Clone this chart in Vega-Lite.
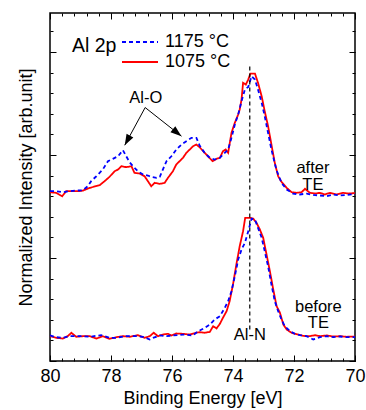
{
  "$schema": "https://vega.github.io/schema/vega-lite/v6.json",
  "width": 305,
  "height": 348,
  "autosize": {"type": "none"},
  "padding": {"left": 50, "top": 13, "right": 11, "bottom": 49},
  "datasets": {
    "spectra": [
      {"E":80.00,"I":1.639,"T":"1075 °C","S":"after"},{"E":79.80,"I":1.633,"T":"1075 °C","S":"after"},{"E":79.60,"I":1.600,"T":"1075 °C","S":"after"},{"E":79.47,"I":1.649,"T":"1075 °C","S":"after"},{"E":79.25,"I":1.649,"T":"1075 °C","S":"after"},{"E":79.03,"I":1.649,"T":"1075 °C","S":"after"},{"E":78.92,"I":1.655,"T":"1075 °C","S":"after"},{"E":78.70,"I":1.681,"T":"1075 °C","S":"after"},{"E":78.37,"I":1.707,"T":"1075 °C","S":"after"},{"E":78.21,"I":1.746,"T":"1075 °C","S":"after"},{"E":78.05,"I":1.788,"T":"1075 °C","S":"after"},{"E":77.88,"I":1.843,"T":"1075 °C","S":"after"},{"E":77.77,"I":1.859,"T":"1075 °C","S":"after"},{"E":77.66,"I":1.891,"T":"1075 °C","S":"after"},{"E":77.50,"I":1.882,"T":"1075 °C","S":"after"},{"E":77.33,"I":1.891,"T":"1075 °C","S":"after"},{"E":77.23,"I":1.827,"T":"1075 °C","S":"after"},{"E":77.06,"I":1.820,"T":"1075 °C","S":"after"},{"E":76.90,"I":1.794,"T":"1075 °C","S":"after"},{"E":76.79,"I":1.746,"T":"1075 °C","S":"after"},{"E":76.68,"I":1.697,"T":"1075 °C","S":"after"},{"E":76.57,"I":1.730,"T":"1075 °C","S":"after"},{"E":76.40,"I":1.720,"T":"1075 °C","S":"after"},{"E":76.24,"I":1.730,"T":"1075 °C","S":"after"},{"E":76.13,"I":1.779,"T":"1075 °C","S":"after"},{"E":75.97,"I":1.843,"T":"1075 °C","S":"after"},{"E":75.86,"I":1.908,"T":"1075 °C","S":"after"},{"E":75.75,"I":1.940,"T":"1075 °C","S":"after"},{"E":75.64,"I":1.973,"T":"1075 °C","S":"after"},{"E":75.53,"I":2.021,"T":"1075 °C","S":"after"},{"E":75.42,"I":2.053,"T":"1075 °C","S":"after"},{"E":75.31,"I":2.085,"T":"1075 °C","S":"after"},{"E":75.20,"I":2.102,"T":"1075 °C","S":"after"},{"E":75.09,"I":2.075,"T":"1075 °C","S":"after"},{"E":74.98,"I":2.037,"T":"1075 °C","S":"after"},{"E":74.82,"I":1.988,"T":"1075 °C","S":"after"},{"E":74.67,"I":1.940,"T":"1075 °C","S":"after"},{"E":74.54,"I":1.963,"T":"1075 °C","S":"after"},{"E":74.43,"I":1.973,"T":"1075 °C","S":"after"},{"E":74.33,"I":2.037,"T":"1075 °C","S":"after"},{"E":74.24,"I":2.053,"T":"1075 °C","S":"after"},{"E":74.16,"I":2.021,"T":"1075 °C","S":"after"},{"E":74.05,"I":2.215,"T":"1075 °C","S":"after"},{"E":73.94,"I":2.313,"T":"1075 °C","S":"after"},{"E":73.83,"I":2.393,"T":"1075 °C","S":"after"},{"E":73.78,"I":2.442,"T":"1075 °C","S":"after"},{"E":73.72,"I":2.539,"T":"1075 °C","S":"after"},{"E":73.67,"I":2.701,"T":"1075 °C","S":"after"},{"E":73.58,"I":2.684,"T":"1075 °C","S":"after"},{"E":73.50,"I":2.733,"T":"1075 °C","S":"after"},{"E":73.43,"I":2.791,"T":"1075 °C","S":"after"},{"E":73.28,"I":2.791,"T":"1075 °C","S":"after"},{"E":73.18,"I":2.701,"T":"1075 °C","S":"after"},{"E":73.06,"I":2.571,"T":"1075 °C","S":"after"},{"E":72.96,"I":2.425,"T":"1075 °C","S":"after"},{"E":72.85,"I":2.280,"T":"1075 °C","S":"after"},{"E":72.74,"I":2.102,"T":"1075 °C","S":"after"},{"E":72.63,"I":1.924,"T":"1075 °C","S":"after"},{"E":72.52,"I":1.794,"T":"1075 °C","S":"after"},{"E":72.41,"I":1.740,"T":"1075 °C","S":"after"},{"E":72.24,"I":1.681,"T":"1075 °C","S":"after"},{"E":72.08,"I":1.639,"T":"1075 °C","S":"after"},{"E":71.91,"I":1.633,"T":"1075 °C","S":"after"},{"E":71.75,"I":1.639,"T":"1075 °C","S":"after"},{"E":71.64,"I":1.672,"T":"1075 °C","S":"after"},{"E":71.48,"I":1.633,"T":"1075 °C","S":"after"},{"E":71.31,"I":1.626,"T":"1075 °C","S":"after"},{"E":71.15,"I":1.633,"T":"1075 °C","S":"after"},{"E":70.99,"I":1.617,"T":"1075 °C","S":"after"},{"E":70.82,"I":1.633,"T":"1075 °C","S":"after"},{"E":70.60,"I":1.617,"T":"1075 °C","S":"after"},{"E":70.38,"I":1.633,"T":"1075 °C","S":"after"},{"E":70.22,"I":1.626,"T":"1075 °C","S":"after"},{"E":70.00,"I":1.630,"T":"1075 °C","S":"after"},

      {"E":80.00,"I":0.241,"T":"1075 °C","S":"before"},{"E":79.80,"I":0.225,"T":"1075 °C","S":"before"},{"E":79.58,"I":0.218,"T":"1075 °C","S":"before"},{"E":79.42,"I":0.241,"T":"1075 °C","S":"before"},{"E":79.30,"I":0.274,"T":"1075 °C","S":"before"},{"E":79.14,"I":0.235,"T":"1075 °C","S":"before"},{"E":78.92,"I":0.241,"T":"1075 °C","S":"before"},{"E":78.70,"I":0.241,"T":"1075 °C","S":"before"},{"E":78.48,"I":0.218,"T":"1075 °C","S":"before"},{"E":78.27,"I":0.241,"T":"1075 °C","S":"before"},{"E":78.05,"I":0.215,"T":"1075 °C","S":"before"},{"E":77.83,"I":0.231,"T":"1075 °C","S":"before"},{"E":77.61,"I":0.241,"T":"1075 °C","S":"before"},{"E":77.39,"I":0.235,"T":"1075 °C","S":"before"},{"E":77.12,"I":0.251,"T":"1075 °C","S":"before"},{"E":76.90,"I":0.225,"T":"1075 °C","S":"before"},{"E":76.73,"I":0.241,"T":"1075 °C","S":"before"},{"E":76.60,"I":0.274,"T":"1075 °C","S":"before"},{"E":76.46,"I":0.241,"T":"1075 °C","S":"before"},{"E":76.30,"I":0.257,"T":"1075 °C","S":"before"},{"E":76.13,"I":0.264,"T":"1075 °C","S":"before"},{"E":76.02,"I":0.248,"T":"1075 °C","S":"before"},{"E":75.86,"I":0.267,"T":"1075 °C","S":"before"},{"E":75.64,"I":0.264,"T":"1075 °C","S":"before"},{"E":75.42,"I":0.257,"T":"1075 °C","S":"before"},{"E":75.20,"I":0.275,"T":"1075 °C","S":"before"},{"E":75.09,"I":0.280,"T":"1075 °C","S":"before"},{"E":74.93,"I":0.274,"T":"1075 °C","S":"before"},{"E":74.76,"I":0.283,"T":"1075 °C","S":"before"},{"E":74.65,"I":0.338,"T":"1075 °C","S":"before"},{"E":74.54,"I":0.316,"T":"1075 °C","S":"before"},{"E":74.43,"I":0.361,"T":"1075 °C","S":"before"},{"E":74.33,"I":0.419,"T":"1075 °C","S":"before"},{"E":74.21,"I":0.484,"T":"1075 °C","S":"before"},{"E":74.11,"I":0.581,"T":"1075 °C","S":"before"},{"E":74.00,"I":0.743,"T":"1075 °C","S":"before"},{"E":73.89,"I":0.937,"T":"1075 °C","S":"before"},{"E":73.78,"I":1.115,"T":"1075 °C","S":"before"},{"E":73.67,"I":1.260,"T":"1075 °C","S":"before"},{"E":73.60,"I":1.390,"T":"1075 °C","S":"before"},{"E":73.45,"I":1.390,"T":"1075 °C","S":"before"},{"E":73.34,"I":1.383,"T":"1075 °C","S":"before"},{"E":73.23,"I":1.342,"T":"1075 °C","S":"before"},{"E":73.12,"I":1.277,"T":"1075 °C","S":"before"},{"E":73.01,"I":1.196,"T":"1075 °C","S":"before"},{"E":72.90,"I":1.034,"T":"1075 °C","S":"before"},{"E":72.79,"I":0.872,"T":"1075 °C","S":"before"},{"E":72.68,"I":0.694,"T":"1075 °C","S":"before"},{"E":72.57,"I":0.532,"T":"1075 °C","S":"before"},{"E":72.46,"I":0.468,"T":"1075 °C","S":"before"},{"E":72.35,"I":0.354,"T":"1075 °C","S":"before"},{"E":72.24,"I":0.306,"T":"1075 °C","S":"before"},{"E":72.08,"I":0.274,"T":"1075 °C","S":"before"},{"E":71.86,"I":0.257,"T":"1075 °C","S":"before"},{"E":71.64,"I":0.241,"T":"1075 °C","S":"before"},{"E":71.48,"I":0.241,"T":"1075 °C","S":"before"},{"E":71.31,"I":0.251,"T":"1075 °C","S":"before"},{"E":71.15,"I":0.241,"T":"1075 °C","S":"before"},{"E":70.93,"I":0.248,"T":"1075 °C","S":"before"},{"E":70.71,"I":0.238,"T":"1075 °C","S":"before"},{"E":70.49,"I":0.241,"T":"1075 °C","S":"before"},{"E":70.27,"I":0.235,"T":"1075 °C","S":"before"},{"E":70.00,"I":0.238,"T":"1075 °C","S":"before"},

      {"E":80.00,"I":1.649,"T":"1175 °C","S":"after"},{"E":79.80,"I":1.649,"T":"1175 °C","S":"after"},{"E":79.58,"I":1.639,"T":"1175 °C","S":"after"},{"E":79.36,"I":1.649,"T":"1175 °C","S":"after"},{"E":79.14,"I":1.655,"T":"1175 °C","S":"after"},{"E":78.92,"I":1.658,"T":"1175 °C","S":"after"},{"E":78.76,"I":1.697,"T":"1175 °C","S":"after"},{"E":78.65,"I":1.746,"T":"1175 °C","S":"after"},{"E":78.48,"I":1.794,"T":"1175 °C","S":"after"},{"E":78.27,"I":1.859,"T":"1175 °C","S":"after"},{"E":78.10,"I":1.940,"T":"1175 °C","S":"after"},{"E":77.94,"I":1.963,"T":"1175 °C","S":"after"},{"E":77.77,"I":1.988,"T":"1175 °C","S":"after"},{"E":77.61,"I":2.047,"T":"1175 °C","S":"after"},{"E":77.50,"I":1.988,"T":"1175 °C","S":"after"},{"E":77.39,"I":1.930,"T":"1175 °C","S":"after"},{"E":77.23,"I":1.876,"T":"1175 °C","S":"after"},{"E":77.12,"I":1.843,"T":"1175 °C","S":"after"},{"E":76.95,"I":1.811,"T":"1175 °C","S":"after"},{"E":76.79,"I":1.801,"T":"1175 °C","S":"after"},{"E":76.68,"I":1.788,"T":"1175 °C","S":"after"},{"E":76.51,"I":1.779,"T":"1175 °C","S":"after"},{"E":76.40,"I":1.788,"T":"1175 °C","S":"after"},{"E":76.30,"I":1.859,"T":"1175 °C","S":"after"},{"E":76.18,"I":1.940,"T":"1175 °C","S":"after"},{"E":76.02,"I":1.988,"T":"1175 °C","S":"after"},{"E":75.86,"I":2.053,"T":"1175 °C","S":"after"},{"E":75.69,"I":2.102,"T":"1175 °C","S":"after"},{"E":75.53,"I":2.134,"T":"1175 °C","S":"after"},{"E":75.36,"I":2.167,"T":"1175 °C","S":"after"},{"E":75.20,"I":2.167,"T":"1175 °C","S":"after"},{"E":75.09,"I":2.090,"T":"1175 °C","S":"after"},{"E":74.93,"I":2.021,"T":"1175 °C","S":"after"},{"E":74.76,"I":1.973,"T":"1175 °C","S":"after"},{"E":74.60,"I":1.956,"T":"1175 °C","S":"after"},{"E":74.43,"I":1.973,"T":"1175 °C","S":"after"},{"E":74.27,"I":2.021,"T":"1175 °C","S":"after"},{"E":74.16,"I":2.053,"T":"1175 °C","S":"after"},{"E":74.05,"I":2.167,"T":"1175 °C","S":"after"},{"E":73.94,"I":2.296,"T":"1175 °C","S":"after"},{"E":73.83,"I":2.393,"T":"1175 °C","S":"after"},{"E":73.72,"I":2.523,"T":"1175 °C","S":"after"},{"E":73.61,"I":2.636,"T":"1175 °C","S":"after"},{"E":73.50,"I":2.662,"T":"1175 °C","S":"after"},{"E":73.39,"I":2.765,"T":"1175 °C","S":"after"},{"E":73.28,"I":2.733,"T":"1175 °C","S":"after"},{"E":73.18,"I":2.636,"T":"1175 °C","S":"after"},{"E":73.06,"I":2.507,"T":"1175 °C","S":"after"},{"E":72.96,"I":2.377,"T":"1175 °C","S":"after"},{"E":72.85,"I":2.215,"T":"1175 °C","S":"after"},{"E":72.74,"I":2.053,"T":"1175 °C","S":"after"},{"E":72.58,"I":1.859,"T":"1175 °C","S":"after"},{"E":72.41,"I":1.730,"T":"1175 °C","S":"after"},{"E":72.24,"I":1.665,"T":"1175 °C","S":"after"},{"E":72.03,"I":1.626,"T":"1175 °C","S":"after"},{"E":71.81,"I":1.617,"T":"1175 °C","S":"after"},{"E":71.59,"I":1.626,"T":"1175 °C","S":"after"},{"E":71.37,"I":1.613,"T":"1175 °C","S":"after"},{"E":71.15,"I":1.607,"T":"1175 °C","S":"after"},{"E":70.93,"I":1.600,"T":"1175 °C","S":"after"},{"E":70.71,"I":1.617,"T":"1175 °C","S":"after"},{"E":70.49,"I":1.607,"T":"1175 °C","S":"after"},{"E":70.27,"I":1.613,"T":"1175 °C","S":"after"},{"E":70.00,"I":1.620,"T":"1175 °C","S":"after"},

      {"E":80.00,"I":0.248,"T":"1175 °C","S":"before"},{"E":79.80,"I":0.231,"T":"1175 °C","S":"before"},{"E":79.58,"I":0.225,"T":"1175 °C","S":"before"},{"E":79.36,"I":0.241,"T":"1175 °C","S":"before"},{"E":79.14,"I":0.241,"T":"1175 °C","S":"before"},{"E":78.92,"I":0.241,"T":"1175 °C","S":"before"},{"E":78.70,"I":0.235,"T":"1175 °C","S":"before"},{"E":78.32,"I":0.251,"T":"1175 °C","S":"before"},{"E":78.05,"I":0.225,"T":"1175 °C","S":"before"},{"E":77.83,"I":0.225,"T":"1175 °C","S":"before"},{"E":77.50,"I":0.241,"T":"1175 °C","S":"before"},{"E":77.17,"I":0.241,"T":"1175 °C","S":"before"},{"E":76.95,"I":0.235,"T":"1175 °C","S":"before"},{"E":76.73,"I":0.209,"T":"1175 °C","S":"before"},{"E":76.62,"I":0.225,"T":"1175 °C","S":"before"},{"E":76.40,"I":0.248,"T":"1175 °C","S":"before"},{"E":76.18,"I":0.241,"T":"1175 °C","S":"before"},{"E":75.97,"I":0.248,"T":"1175 °C","S":"before"},{"E":75.64,"I":0.257,"T":"1175 °C","S":"before"},{"E":75.31,"I":0.248,"T":"1175 °C","S":"before"},{"E":75.15,"I":0.290,"T":"1175 °C","S":"before"},{"E":75.09,"I":0.296,"T":"1175 °C","S":"before"},{"E":74.93,"I":0.322,"T":"1175 °C","S":"before"},{"E":74.76,"I":0.354,"T":"1175 °C","S":"before"},{"E":74.60,"I":0.403,"T":"1175 °C","S":"before"},{"E":74.43,"I":0.435,"T":"1175 °C","S":"before"},{"E":74.27,"I":0.516,"T":"1175 °C","S":"before"},{"E":74.16,"I":0.581,"T":"1175 °C","S":"before"},{"E":74.05,"I":0.678,"T":"1175 °C","S":"before"},{"E":73.94,"I":0.823,"T":"1175 °C","S":"before"},{"E":73.83,"I":0.985,"T":"1175 °C","S":"before"},{"E":73.72,"I":1.083,"T":"1175 °C","S":"before"},{"E":73.61,"I":1.147,"T":"1175 °C","S":"before"},{"E":73.50,"I":1.260,"T":"1175 °C","S":"before"},{"E":73.39,"I":1.383,"T":"1175 °C","S":"before"},{"E":73.28,"I":1.374,"T":"1175 °C","S":"before"},{"E":73.18,"I":1.293,"T":"1175 °C","S":"before"},{"E":73.06,"I":1.196,"T":"1175 °C","S":"before"},{"E":72.96,"I":1.066,"T":"1175 °C","S":"before"},{"E":72.85,"I":0.920,"T":"1175 °C","S":"before"},{"E":72.74,"I":0.743,"T":"1175 °C","S":"before"},{"E":72.63,"I":0.581,"T":"1175 °C","S":"before"},{"E":72.52,"I":0.484,"T":"1175 °C","S":"before"},{"E":72.41,"I":0.403,"T":"1175 °C","S":"before"},{"E":72.30,"I":0.338,"T":"1175 °C","S":"before"},{"E":72.13,"I":0.290,"T":"1175 °C","S":"before"},{"E":71.97,"I":0.264,"T":"1175 °C","S":"before"},{"E":71.81,"I":0.251,"T":"1175 °C","S":"before"},{"E":71.59,"I":0.241,"T":"1175 °C","S":"before"},{"E":71.37,"I":0.209,"T":"1175 °C","S":"before"},{"E":71.15,"I":0.231,"T":"1175 °C","S":"before"},{"E":70.93,"I":0.241,"T":"1175 °C","S":"before"},{"E":70.71,"I":0.231,"T":"1175 °C","S":"before"},{"E":70.49,"I":0.238,"T":"1175 °C","S":"before"},{"E":70.27,"I":0.231,"T":"1175 °C","S":"before"},{"E":70.00,"I":0.231,"T":"1175 °C","S":"before"}
    ],
    "labels": [
      {"E": 76.86, "I": 2.549, "label": "Al-O"},
      {"E": 73.45, "I": 0.25, "label": "Al-N"},
      {"E": 71.38, "I": 1.872, "label": "after TE"},
      {"E": 71.20, "I": 0.529, "label": "before TE"}
    ],
    "arrows": [
      {"id": 1, "E0": 76.88, "I0": 2.461, "E1": 77.55, "I1": 2.095},
      {"id": 2, "E0": 76.88, "I0": 2.461, "E1": 75.69, "I1": 2.183}
    ],
    "marker": [
      {"E": 73.45, "I0": 0.306, "I1": 2.879}
    ]
  },
  "resolve": {"axis": {"x": "independent", "y": "independent"}},
  "layer": [
    {
      "data": {"name": "spectra"},
      "mark": {"type": "line", "strokeWidth": 1.8},
      "encoding": {
        "x": {"field": "E", "type": "quantitative",
          "scale": {"domain": [70, 80], "reverse": true, "nice": false, "zero": false},
          "axis": {"orient": "bottom", "values": [80, 78, 76, 74, 72, 70], "tickSize": -6, "labelPadding": 12, "title": "Binding Energy [eV]", "titlePadding": 4}},
        "y": {"field": "I", "type": "quantitative",
          "scale": {"domain": [0, 3.379], "nice": false, "zero": false},
          "axis": {"orient": "left", "values": [0, 1, 2, 3], "tickSize": -6, "labels": false, "title": "Normalized Intensity [arb.unit]", "titlePadding": 14}},
        "color": {"field": "T", "type": "nominal",
          "scale": {"domain": ["1175 °C", "1075 °C"], "range": ["#0000ff", "#ff0000"]},
          "legend": {"title": "Al 2p", "orient": "none", "legendX": 22, "legendY": 19, "direction": "vertical"}},
        "strokeDash": {"field": "T", "type": "nominal",
          "scale": {"domain": ["1175 °C", "1075 °C"], "range": [[4, 3], [1, 0]]},
          "legend": {"title": "Al 2p", "orient": "none", "legendX": 22, "legendY": 19, "direction": "vertical"}},
        "detail": {"field": "S", "type": "nominal"}
      }
    },
    {
      "data": {"name": "marker"},
      "mark": {"type": "rule", "strokeDash": [4, 3], "strokeWidth": 1.2, "color": "#000"},
      "encoding": {
        "x": {"field": "E", "type": "quantitative",
          "scale": {"domain": [70, 80], "reverse": true, "nice": false, "zero": false},
          "axis": {"orient": "bottom", "values": [70,70.4,70.8,71.2,71.6,72,72.4,72.8,73.2,73.6,74,74.4,74.8,75.2,75.6,76,76.4,76.8,77.2,77.6,78,78.4,78.8,79.2,79.6,80], "tickSize": -3, "labels": false, "title": null}},
        "y": {"field": "I0", "type": "quantitative",
          "scale": {"domain": [0, 3.379], "nice": false, "zero": false},
          "axis": {"orient": "left", "values": [0,0.2,0.4,0.6,0.8,1,1.2,1.4,1.6,1.8,2,2.2,2.4,2.6,2.8,3,3.2], "tickSize": -3, "labels": false, "title": null}},
        "y2": {"field": "I1"}
      }
    },
    {
      "data": {"name": "arrows"},
      "mark": {"type": "rule", "strokeWidth": 1, "color": "#000"},
      "encoding": {
        "x": {"field": "E0", "type": "quantitative",
          "scale": {"domain": [70, 80], "reverse": true, "nice": false, "zero": false},
          "axis": {"orient": "top", "values": [80, 78, 76, 74, 72, 70], "tickSize": -6, "labels": false, "title": null}},
        "y": {"field": "I0", "type": "quantitative",
          "scale": {"domain": [0, 3.379], "nice": false, "zero": false},
          "axis": {"orient": "right", "values": [0, 1, 2, 3], "tickSize": -6, "labels": false, "title": null}},
        "x2": {"field": "E1"},
        "y2": {"field": "I1"}
      }
    },
    {
      "data": {"name": "arrows"},
      "transform": [{"filter": "datum.id == 1"}],
      "mark": {"type": "point", "shape": "M0,0L-0.7,2L0.7,2Z", "filled": true, "color": "#000", "opacity": 1, "size": 121, "angle": 208.4},
      "encoding": {
        "x": {"field": "E1", "type": "quantitative",
          "scale": {"domain": [70, 80], "reverse": true, "nice": false, "zero": false},
          "axis": {"orient": "top", "values": [70,70.4,70.8,71.2,71.6,72,72.4,72.8,73.2,73.6,74,74.4,74.8,75.2,75.6,76,76.4,76.8,77.2,77.6,78,78.4,78.8,79.2,79.6,80], "tickSize": -3, "labels": false, "title": null}},
        "y": {"field": "I1", "type": "quantitative",
          "scale": {"domain": [0, 3.379], "nice": false, "zero": false},
          "axis": {"orient": "right", "values": [0,0.2,0.4,0.6,0.8,1,1.2,1.4,1.6,1.8,2,2.2,2.4,2.6,2.8,3,3.2], "tickSize": -3, "labels": false, "title": null}}
      }
    },
    {
      "data": {"name": "arrows"},
      "transform": [{"filter": "datum.id == 2"}],
      "mark": {"type": "point", "shape": "M0,0L-0.7,2L0.7,2Z", "filled": true, "color": "#000", "opacity": 1, "size": 121, "angle": 128.7},
      "encoding": {
        "x": {"field": "E1", "type": "quantitative",
          "scale": {"domain": [70, 80], "reverse": true, "nice": false, "zero": false}, "axis": null},
        "y": {"field": "I1", "type": "quantitative",
          "scale": {"domain": [0, 3.379], "nice": false, "zero": false}, "axis": null}
      }
    },
    {
      "data": {"name": "labels"},
      "mark": {"type": "text", "fontSize": 16.5, "align": "center", "baseline": "middle", "lineBreak": " ", "lineHeight": 16.8, "color": "#000"},
      "encoding": {
        "x": {"field": "E", "type": "quantitative",
          "scale": {"domain": [70, 80], "reverse": true, "nice": false, "zero": false}, "axis": null},
        "y": {"field": "I", "type": "quantitative",
          "scale": {"domain": [0, 3.379], "nice": false, "zero": false}, "axis": null},
        "text": {"field": "label", "type": "nominal"}
      }
    }
  ],
  "config": {
    "font": "Liberation Sans",
    "view": {"stroke": "#000", "strokeWidth": 1.5},
    "axis": {"grid": false, "domain": false, "tickColor": "#000", "tickWidth": 1, "labelColor": "#000", "titleColor": "#000", "titleFontWeight": "normal", "labelFontSize": 18, "titleFontSize": 18, "labelFlush": false, "labelOverlap": false, "labelFont": "Liberation Sans", "titleFont": "Liberation Sans"},
    "legend": {"titleOrient": "left", "titleAnchor": "middle", "titleBaseline": "alphabetic", "titleFontSize": 19.5, "titleFontWeight": "normal", "titleColor": "#000", "titlePadding": 4, "labelFontSize": 18, "labelColor": "#000", "labelOffset": 6, "symbolType": "stroke", "symbolSize": 1296, "symbolStrokeWidth": 2, "clipHeight": 20, "rowPadding": 0, "padding": 0, "symbolOffset": 0, "labelFont": "Liberation Sans", "titleFont": "Liberation Sans"},
    "text": {"font": "Liberation Sans"}
  }
}
